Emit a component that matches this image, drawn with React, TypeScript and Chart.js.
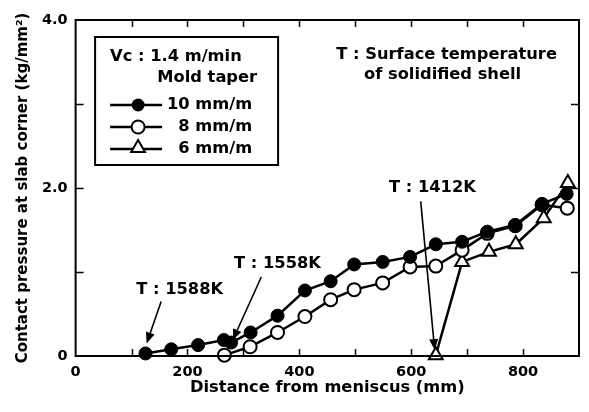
import React, { useEffect, useRef } from 'react';
import { Chart, registerables } from 'chart.js';

Chart.register(...registerables);

// ---- data ----
const seriesLabels = ['10 mm/m', '8 mm/m', '6 mm/m'];

const distance10 = [125, 171, 219, 265, 278, 313, 361, 410, 456, 498, 549, 598, 644, 691, 736, 786, 834, 878];
const pressure10 = [0.03, 0.08, 0.13, 0.19, 0.16, 0.28, 0.48, 0.78, 0.89, 1.09, 1.12, 1.18, 1.33, 1.36, 1.48, 1.56, 1.81, 1.93];

const distance8 = [266, 312, 361, 410, 456, 498, 549, 598, 644, 691, 736, 786, 834, 879];
const pressure8 = [0.01, 0.11, 0.28, 0.47, 0.67, 0.79, 0.87, 1.06, 1.07, 1.26, 1.46, 1.55, 1.8, 1.76];

const distance6 = [644, 691, 739, 787, 837, 880];
const pressure6 = [0.01, 1.12, 1.24, 1.33, 1.64, 2.06];

const xTitle = 'Distance from meniscus (mm)';
const yTitle = 'Contact pressure at slab corner (kg/mm²)';
const legendTitle1 = 'Vc : 1.4 m/min';
const legendTitle2 = 'Mold taper';
const noteLine1 = 'T : Surface temperature';
const noteLine2 = 'of solidified shell';

// temperature call-outs (in data units)
const calloutLabels = ['T : 1588K', 'T : 1558K', 'T : 1412K'];
const calloutTextX = [186, 361, 638];
const calloutTextY = [0.79, 1.1, 2.0];
const calloutFromX = [153, 332, 617];
const calloutFromY = [0.65, 0.94, 1.84];
const calloutToX = [127, 281, 642];
const calloutToY = [0.15, 0.19, 0.07];

const FONT = "'DejaVu Sans', 'Liberation Sans', sans-serif";

function drawMarker(ctx: CanvasRenderingContext2D, style: string, x: number, y: number) {
  ctx.save();
  ctx.lineWidth = 2;
  ctx.strokeStyle = '#000';
  ctx.beginPath();
  if (style === 'filled') {
    ctx.arc(x, y, 6.5, 0, Math.PI * 2);
    ctx.fillStyle = '#000';
    ctx.fill();
  } else if (style === 'hollow') {
    ctx.arc(x, y, 6.5, 0, Math.PI * 2);
    ctx.fillStyle = '#fff';
    ctx.fill();
    ctx.stroke();
  } else {
    const r = 8;
    let rad = 0;
    ctx.moveTo(x + Math.sin(rad) * r, y - Math.cos(rad) * r);
    rad += (2 * Math.PI) / 3;
    ctx.lineTo(x + Math.sin(rad) * r, y - Math.cos(rad) * r);
    rad += (2 * Math.PI) / 3;
    ctx.lineTo(x + Math.sin(rad) * r, y - Math.cos(rad) * r);
    ctx.closePath();
    ctx.fillStyle = '#fff';
    ctx.fill();
    ctx.stroke();
  }
  ctx.restore();
}

const framePlugin = {
  id: 'frame',
  afterDraw(chart: any) {
    const { ctx, chartArea: ca, scales } = chart;
    const xs = scales.x;
    const ys = scales.y;
    ctx.save();
    ctx.strokeStyle = '#000';
    ctx.lineWidth = 2;
    ctx.strokeRect(ca.left, ca.top, ca.right - ca.left, ca.bottom - ca.top);
    ctx.lineWidth = 1.5;
    ctx.beginPath();
    for (const t of xs.ticks) {
      if (t.value <= xs.min || t.value >= xs.max) continue;
      const px = Math.round(xs.getPixelForValue(t.value)) + 0.5;
      ctx.moveTo(px, ca.bottom);
      ctx.lineTo(px, ca.bottom - 7);
      ctx.moveTo(px, ca.top);
      ctx.lineTo(px, ca.top + 7);
    }
    for (const t of ys.ticks) {
      if (t.value <= ys.min || t.value >= ys.max) continue;
      const py = Math.round(ys.getPixelForValue(t.value)) + 0.5;
      ctx.moveTo(ca.left, py);
      ctx.lineTo(ca.left + 8, py);
      ctx.moveTo(ca.right, py);
      ctx.lineTo(ca.right - 8, py);
    }
    ctx.stroke();

    // call-out arrows
    ctx.fillStyle = '#000';
    ctx.font = `bold 16.3px ${FONT}`;
    ctx.textAlign = 'center';
    ctx.textBaseline = 'middle';
    for (let i = 0; i < calloutLabels.length; i++) {
      const fx = xs.getPixelForValue(calloutFromX[i]);
      const fy = ys.getPixelForValue(calloutFromY[i]);
      const tx = xs.getPixelForValue(calloutToX[i]);
      const ty = ys.getPixelForValue(calloutToY[i]);
      const ang = Math.atan2(ty - fy, tx - fx);
      const hl = 11;
      const hw = 4.5;
      const bx = tx - Math.cos(ang) * hl;
      const by = ty - Math.sin(ang) * hl;
      ctx.lineWidth = 1.6;
      ctx.beginPath();
      ctx.moveTo(fx, fy);
      ctx.lineTo(bx, by);
      ctx.stroke();
      ctx.beginPath();
      ctx.moveTo(tx, ty);
      ctx.lineTo(bx + Math.sin(ang) * hw, by - Math.cos(ang) * hw);
      ctx.lineTo(bx - Math.sin(ang) * hw, by + Math.cos(ang) * hw);
      ctx.closePath();
      ctx.fill();
      ctx.fillText(
        calloutLabels[i],
        xs.getPixelForValue(calloutTextX[i]),
        ys.getPixelForValue(calloutTextY[i])
      );
    }

    // note in upper right
    ctx.fillText(noteLine1, ca.left + 371, ca.top + 35);
    ctx.fillText(noteLine2, ca.left + 367, ca.top + 55);

    // legend box
    const bl = ca.left + 19.5;
    const bt = ca.top + 17;
    const bw = 183;
    const bh = 128;
    ctx.lineWidth = 2;
    ctx.strokeRect(bl, bt, bw, bh);
    ctx.textAlign = 'left';
    ctx.fillText(legendTitle1, bl + 15, bt + 20);
    ctx.textAlign = 'right';
    ctx.fillText(legendTitle2, bl + 162, bt + 41);
    const styles = ['filled', 'hollow', 'triangle'];
    for (let i = 0; i < seriesLabels.length; i++) {
      const yy = bt + 68 + i * 22;
      ctx.lineWidth = 2.5;
      ctx.beginPath();
      ctx.moveTo(bl + 15, yy);
      ctx.lineTo(bl + 67, yy);
      ctx.stroke();
      drawMarker(ctx, styles[i], bl + 43, i === 2 ? yy - 1 : yy);
      ctx.fillStyle = '#000';
      ctx.textAlign = 'right';
      ctx.fillText(seriesLabels[i], bl + 157, yy);
    }
    ctx.restore();
  },
};

export default function App() {
  const ref = useRef<HTMLCanvasElement>(null);

  useEffect(() => {
    if (!ref.current) return;
    const toPts = (xs: number[], ys: number[]) => xs.map((x, i) => ({ x, y: ys[i] }));
    const chart = new Chart(ref.current, {
      type: 'line',
      data: {
        datasets: [
          {
            label: seriesLabels[0],
            data: toPts(distance10, pressure10),
            borderColor: '#000',
            backgroundColor: '#000',
            borderWidth: 2.5,
            pointStyle: 'circle',
            pointRadius: 6.5,
            pointBorderWidth: 1,
            pointBackgroundColor: '#000',
            pointBorderColor: '#000',
            clip: false,
          },
          {
            label: seriesLabels[1],
            data: toPts(distance8, pressure8),
            borderColor: '#000',
            backgroundColor: '#fff',
            borderWidth: 2.5,
            pointStyle: 'circle',
            pointRadius: 6.5,
            pointBorderWidth: 2,
            pointBackgroundColor: '#fff',
            pointBorderColor: '#000',
            clip: false,
          },
          {
            label: seriesLabels[2],
            data: toPts(distance6, pressure6),
            borderColor: '#000',
            backgroundColor: '#fff',
            borderWidth: 2.5,
            pointStyle: 'triangle',
            pointRadius: 8,
            pointBorderWidth: 2,
            pointBackgroundColor: '#fff',
            pointBorderColor: '#000',
            clip: false,
          },
        ],
      },
      options: {
        responsive: false,
        animation: false,
        events: [],
        layout: { padding: { top: 20, right: 8.5, left: 0, bottom: 0 } },
        plugins: {
          legend: { display: false },
          tooltip: { enabled: false },
        },
        elements: { line: { tension: 0 } },
        scales: {
          x: {
            type: 'linear',
            min: 0,
            max: 900,
            grid: { display: false, drawTicks: false },
            border: { display: false },
            ticks: {
              stepSize: 100,
              autoSkip: false,
              maxRotation: 0,
              padding: 8,
              color: '#000',
              font: { family: FONT, size: 14.5, weight: 'bold' },
              callback: (v: any) => (v % 200 === 0 && v < 900 ? String(v) : ''),
            },
            title: {
              display: true,
              text: xTitle,
              color: '#000',
              font: { family: FONT, size: 16.3, weight: 'bold' },
              padding: { top: 0, bottom: 14 },
            },
            afterFit: (s: any) => {
              s.height = 56;
            },
          },
          y: {
            type: 'linear',
            min: 0,
            max: 4,
            grid: { display: false, drawTicks: false },
            border: { display: false },
            ticks: {
              stepSize: 1,
              autoSkip: false,
              padding: 8,
              color: '#000',
              font: { family: FONT, size: 14.5, weight: 'bold' },
              callback: (v: any) => (v === 0 ? '0' : v % 2 === 0 ? Number(v).toFixed(1) : ''),
            },
            title: {
              display: true,
              text: yTitle,
              color: '#000',
              font: { family: FONT, size: 15, weight: 'bold' },
              padding: { top: 14, bottom: 0 },
            },
            afterFit: (s: any) => {
              s.width = 75.6;
            },
          },
        },
      } as any,
      plugins: [framePlugin],
    });
    return () => chart.destroy();
  }, []);

  return (
    <div style={{ position: 'absolute', left: 0, top: 0, width: 589, height: 412, background: '#fff' }}>
      <canvas ref={ref} width={589} height={412} />
    </div>
  );
}
